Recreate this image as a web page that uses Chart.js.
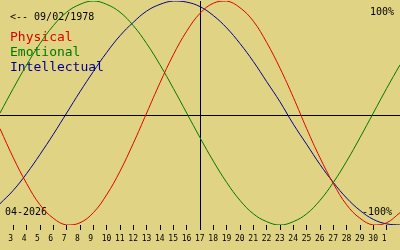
<!DOCTYPE html>
<html>
<head>
<meta charset="utf-8">
<script src="https://cdn.jsdelivr.net/npm/chart.js@4"></script>
<style>
  html, body { margin: 0; padding: 0; background: #e0d484; }
  canvas { display: block; }
</style>
</head>
<body>
<canvas id="bio" width="400" height="250"></canvas>
<script>
// jours affichés : du 2 avril au 2 mai (32 = 2 mai)
const DAYS = [2, 3, 4, 5, 6, 7, 8, 9, 10, 11, 12, 13, 14, 15, 16, 17, 18, 19, 20, 21, 22, 23, 24, 25, 26, 27, 28, 29, 30, 31, 32];
const TICK_LABELS = ['3', '4', '5', '6', '7', '8', '9', '10', '11', '12', '13', '14', '15', '16', '17', '18', '19', '20', '21', '22', '23', '24', '25', '26', '27', '28', '29', '30', '1'];
const FIRST_LABEL_DAY = 3;
const TODAY = 17;

// valeurs, en %
const PHYSICAL = [-14, -40, -63, -82, -94, -100, -98, -89, -73, -52, -27, 0, 27, 52, 73, 89, 98, 100, 94, 82, 63, 40, 14, -14, -40, -63, -82, -94, -100, -98, -89];
const EMOTIONAL = [0, 22, 43, 62, 78, 90, 97, 100, 97, 90, 78, 62, 43, 22, 0, -22, -43, -62, -78, -90, -97, -100, -97, -90, -78, -62, -43, -22, 0, 22, 43];
const INTELLECTUAL = [-81, -69, -54, -37, -19, 0, 19, 37, 54, 69, 81, 91, 97, 100, 99, 95, 87, 76, 62, 46, 28, 10, -10, -28, -46, -62, -76, -87, -95, -99, -100];

const AXIS_LEVEL = -1.8; // la ligne horizontale est un peu sous le zéro sur l'original

const SERIES = [
    { name: 'Physical', values: PHYSICAL, color: '#dc0000' },
    { name: 'Emotional', values: EMOTIONAL, color: '#007800' },
    { name: 'Intellectual', values: INTELLECTUAL, color: '#000090' }
];

const MONO = '"DejaVu Sans Mono", "Liberation Mono", monospace';

// textes : date de naissance, légende, bornes
const textPlugin = {
    id: 'bioTexts',
    beforeDatasetsDraw(chart) {
        const ctx = chart.ctx;
        ctx.save();
        ctx.textBaseline = 'middle';
        ctx.fillStyle = '#000';
        ctx.font = '10px ' + MONO;
        ctx.textAlign = 'left';
        ctx.fillText('<-- 09/02/1978', 10, 17);
        ctx.fillText('04-2026', 5, 212);
        ctx.textAlign = 'right';
        ctx.fillText('100%', 394, 12);
        ctx.fillText('-100%', 392, 212);

        ctx.textAlign = 'left';
        ctx.font = '13px ' + MONO;
        SERIES.forEach((s, i) => {
            ctx.fillStyle = s.color;
            ctx.fillText(s.name, 10, 38 + i * 15);
        });
        ctx.restore();
    }
};

const ctx = document.getElementById('bio').getContext('2d');
new Chart(ctx, {
    type: 'line',
    data: {
        datasets: SERIES.map(s => ({
            label: s.name,
            data: s.values.map((v, i) => ({ x: DAYS[i], y: v })),
            borderColor: s.color,
            borderWidth: 1,
            pointRadius: 0,
            tension: 0.4,
            fill: false
        }))
    },
    options: {
        responsive: false,
        animation: false,
        devicePixelRatio: 1,
        layout: { autoPadding: false, padding: { top: 1, left: 0, right: 0, bottom: 0 } },
        plugins: { legend: { display: false }, tooltip: { enabled: false } },
        scales: {
            x: {
                type: 'linear',
                min: DAYS[0],
                max: DAYS[DAYS.length - 1],
                afterFit: scale => { scale.height = 25; scale.paddingLeft = 0; scale.paddingRight = 0; },
                border: { display: false },
                grid: {
                    drawOnChartArea: true,
                    drawTicks: true,
                    tickLength: 5,
                    color: c => (c.tick && c.tick.value === TODAY) ? '#000' : 'rgba(0,0,0,0)',
                    tickColor: c => (c.tick && c.tick.value > DAYS[0] && c.tick.value < DAYS[DAYS.length - 1]) ? '#000' : 'rgba(0,0,0,0)'
                },
                ticks: {
                    stepSize: 1,
                    autoSkip: false,
                    maxRotation: 0,
                    padding: 4,
                    align: 'start',
                    labelOffset: -5,
                    color: '#000',
                    font: { family: MONO, size: 8 },
                    callback: v => TICK_LABELS[v - FIRST_LABEL_DAY] ?? ''
                }
            },
            y: {
                min: -100,
                max: 100,
                afterBuildTicks: scale => { scale.ticks = [{ value: AXIS_LEVEL }]; },
                afterFit: scale => { scale.width = 0; },
                border: { display: false },
                grid: { color: '#000', drawTicks: false },
                ticks: { display: false }
            }
        }
    },
    plugins: [textPlugin]
});
</script>
</body>
</html>
